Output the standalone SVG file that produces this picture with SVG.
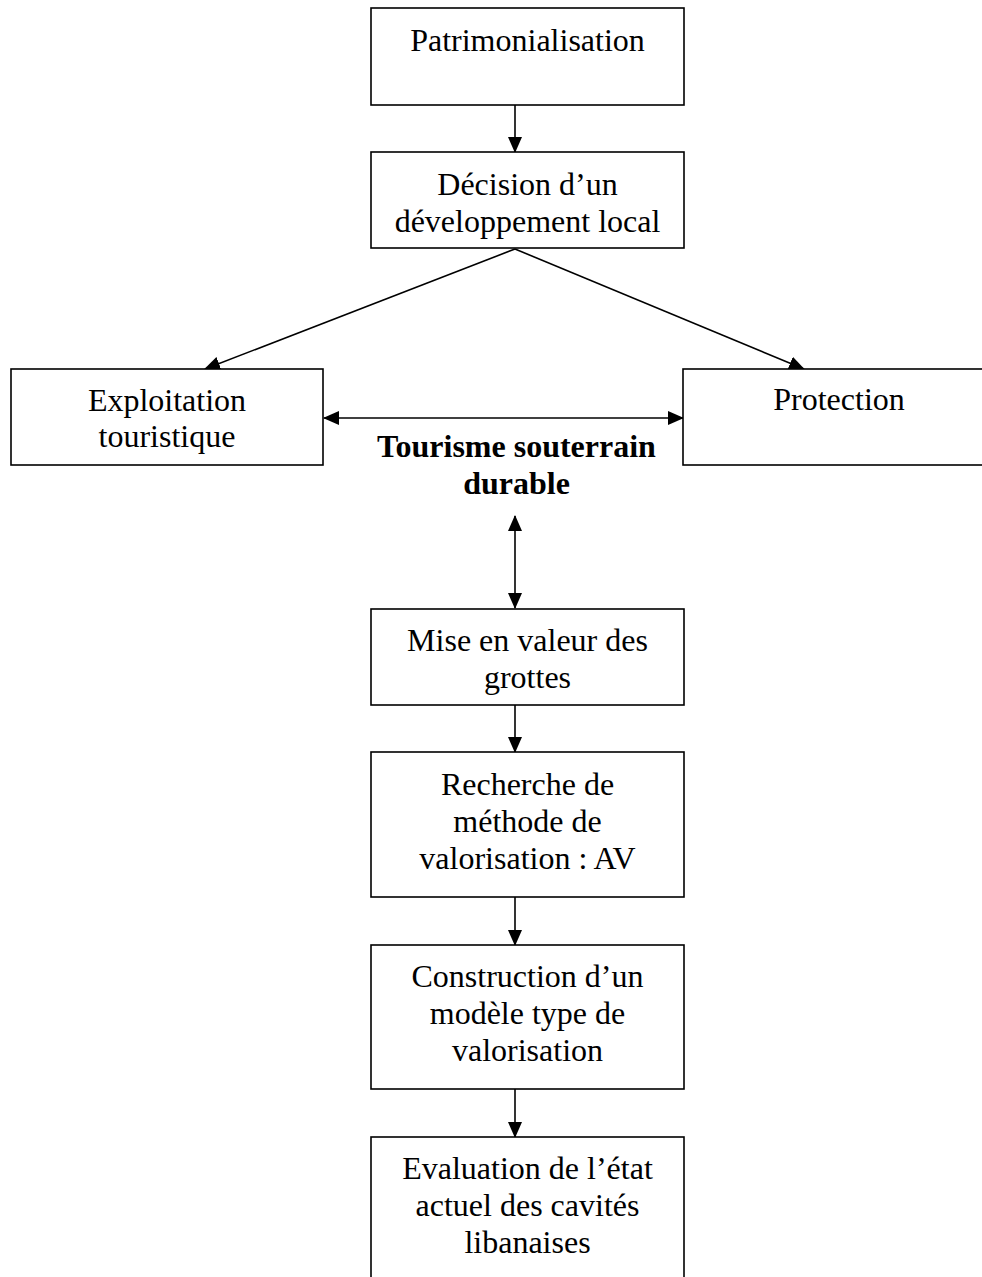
<svg xmlns="http://www.w3.org/2000/svg" width="982" height="1277" viewBox="0 0 982 1277">
<style>
.box{fill:#fff;stroke:#000;stroke-width:1.6}
.t{font-family:"Liberation Serif","Times New Roman",serif;font-size:32px;fill:#000;text-anchor:middle}
.b{font-weight:bold}
.c{stroke:#000;stroke-width:1.6;fill:none}
</style>
<defs>
<marker id="ah" markerUnits="userSpaceOnUse" markerWidth="16" markerHeight="14" refX="15" refY="7" orient="auto-start-reverse" viewBox="0 0 16 14">
<path d="M0,0 L16,7 L0,14 Z" fill="#000"/>
</marker>
</defs>
<rect width="982" height="1277" fill="#fff"/>
<g id="connectors">
<line class="c" x1="515" y1="105" x2="515" y2="152" marker-end="url(#ah)"/>
<line class="c" x1="515" y1="249" x2="205" y2="369" marker-end="url(#ah)"/>
<line class="c" x1="515" y1="249" x2="804" y2="369" marker-end="url(#ah)"/>
<line class="c" x1="324" y1="418" x2="683" y2="418" marker-start="url(#ah)" marker-end="url(#ah)"/>
<line class="c" x1="515" y1="516" x2="515" y2="608" marker-start="url(#ah)" marker-end="url(#ah)"/>
<line class="c" x1="515" y1="705" x2="515" y2="752" marker-end="url(#ah)"/>
<line class="c" x1="515" y1="897" x2="515" y2="945" marker-end="url(#ah)"/>
<line class="c" x1="515" y1="1089" x2="515" y2="1137" marker-end="url(#ah)"/>
</g>
<g id="n1"><rect class="box" x="371" y="8" width="313" height="97"/><text class="t" x="527.5" y="51">Patrimonialisation</text></g>
<g id="n2"><rect class="box" x="371" y="152" width="313" height="96"/><text class="t" x="527.5" y="195">Décision d’un</text><text class="t" x="527.5" y="232">développement local</text></g>
<g id="n3"><rect class="box" x="11" y="369" width="312" height="96"/><text class="t" x="167" y="411">Exploitation</text><text class="t" x="167" y="447">touristique</text></g>
<g id="n4"><rect class="box" x="683" y="369" width="310" height="96"/><text class="t" x="839" y="410">Protection</text></g>
<g id="n5"><text class="t b" x="516.5" y="457">Tourisme souterrain</text><text class="t b" x="516.5" y="494">durable</text></g>
<g id="n6"><rect class="box" x="371" y="609" width="313" height="96"/><text class="t" x="527.5" y="651">Mise en valeur des</text><text class="t" x="527.5" y="688">grottes</text></g>
<g id="n7"><rect class="box" x="371" y="752" width="313" height="145"/><text class="t" x="527.5" y="795">Recherche de</text><text class="t" x="527.5" y="832">méthode de</text><text class="t" x="527.5" y="869">valorisation : AV</text></g>
<g id="n8"><rect class="box" x="371" y="945" width="313" height="144"/><text class="t" x="527.5" y="987">Construction d’un</text><text class="t" x="527.5" y="1024">modèle type de</text><text class="t" x="527.5" y="1061">valorisation</text></g>
<g id="n9"><rect class="box" x="371" y="1137" width="313" height="150"/><text class="t" x="527.5" y="1179">Evaluation de l’état</text><text class="t" x="527.5" y="1216">actuel des cavités</text><text class="t" x="527.5" y="1253">libanaises</text></g>
</svg>
